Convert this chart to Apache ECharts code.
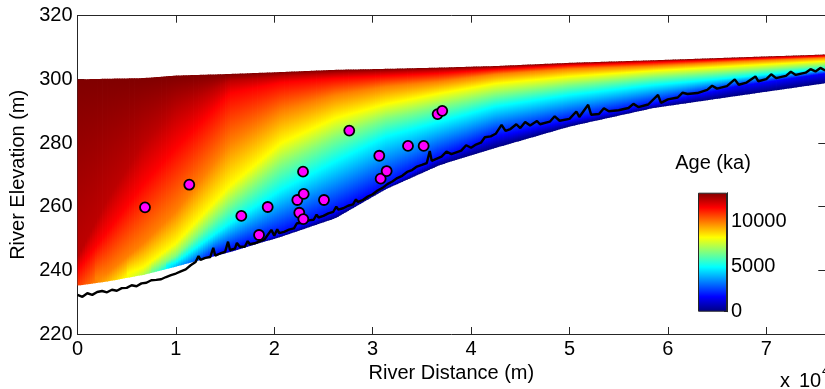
<!DOCTYPE html>
<html>
<head>
<meta charset="utf-8">
<script src="https://cdn.jsdelivr.net/npm/echarts/dist/echarts.min.js"></script>
<style>
html,body{margin:0;padding:0;background:#fff;}
#chart{width:825px;height:389px;}
</style>
</head>
<body>
<div id="chart"></div>
<script>
// ---------- DATA ----------
// sample distances (m) for the age field
const fieldDist   = [0, 3000, 6700, 10000, 15500, 20700, 26200, 31300, 36800, 42500, 50000, 58500, 67000, 76000];
const fieldTop    = [300.0, 300.2, 300.4, 301.2, 301.7, 302.3, 303.0, 303.3, 303.7, 304.2, 305.2, 306.0, 306.9, 307.8];
const fieldBottom = [235.2, 236.5, 238.6, 241.2, 245.8, 250.6, 256.4, 265.5, 273.1, 278.5, 285.2, 291.0, 294.8, 298.8];
const bottomAge   = [10800, 9300, 7300, 4000, 500, 0, 0, 0, 0, 0, 0, 0, 0, 0];
// isochrone elevations (null = isochrone lies at / below the field bottom)
const ageLevels = [1650, 4950, 6600, 8250, 9900, 11550, 12400];
const iso1650  = [null, null, null, null, 246.3, 251.5, 258.3, 266.3, 275.2, 282.0, 287.0, 292.2, 297.8, 301.8];
const iso4950  = [null, null, null, 242.5, 254.8, 265.3, 274.2, 282.0, 286.7, 291.5, 295.1, 298.2, 300.6, 303.3];
const iso6600  = [null, null, null, 244.5, 260.5, 273.0, 281.5, 287.5, 291.4, 295.1, 298.2, 300.6, 302.4, 304.4];
const iso8250  = [null, null, 241.0, 248.5, 266.5, 280.0, 287.8, 292.2, 295.6, 298.7, 300.9, 302.7, 304.2, 305.7];
const iso9900  = [null, 239.0, 248.5, 258.5, 280.0, 290.0, 295.1, 297.7, 299.3, 301.6, 303.3, 304.2, 305.6, 306.8];
const iso11550 = [240.0, 252.0, 267.0, 278.5, 295.6, 299.0, 300.3, 301.1, 301.9, 303.1, 304.4, 305.3, 306.3, 307.3];
const iso12400 = [244.0, 262.0, 280.0, 290.5, 299.5, 301.0, 301.8, 302.3, 302.9, 303.7, 304.8, 305.7, 306.6, 307.6];
const ageMax = 13200;

// river profile (black line)
const riverDist = [
  0,500,1000,1500,2000,2500,3000,3500,4000,4500,
  5000,5500,6000,6500,7000,7500,8000,8500,9000,9500,
  10000,10500,11000,11500,12000,12300,12500,13000,13500,13800,
  14000,14500,15000,15300,15500,16000,16200,16500,17000,17300,
  17500,18000,18500,19000,19700,20000,20300,20500,21000,21500,
  22000,22300,22500,23000,23500,24000,24300,24500,25000,25500,
  26000,26300,26500,27000,27500,28000,28300,28500,29000,29500,
  30000,30500,31000,31500,32000,32500,33000,33500,34000,34500,
  35000,35500,35800,36000,37000,37500,38000,39000,39500,40000,
  40500,41000,41400,42000,42500,43100,43500,44000,44600,45000,
  45500,46000,46700,47000,48000,48500,49000,50000,50700,51000,
  51900,52200,53000,53500,54000,55000,56000,56500,57000,58000,
  59000,59300,60000,61000,61500,62000,63000,64000,64500,65000,
  66000,66800,67200,68000,68900,69200,70000,70500,71000,72000,
  72500,73000,74000,74500,75000,75500,76000];
const riverElev = [
  232.3,231.7,232.8,232.3,233.2,233.5,233.1,233.9,233.6,234.4,
  234.5,235.3,235.0,235.9,236.1,236.9,237.0,237.2,237.9,238.5,
  239.0,239.7,240.3,241.6,242.6,244.5,243.3,243.9,244.2,247.1,
  244.6,245.3,245.8,249.0,246.4,246.8,248.6,247.4,247.4,249.2,
  248.2,248.5,249.1,249.7,252.7,250.9,252.9,251.7,252.1,252.8,
  253.2,254.8,254.3,254.9,255.7,255.9,257.5,256.6,257.1,257.9,
  258.4,260.0,259.1,259.5,260.3,260.7,262.3,261.5,262.1,263.2,
  263.9,265.1,265.9,267.1,267.9,269.0,269.7,270.9,271.5,272.6,
  273.1,273.7,277.5,274.4,275.7,277.3,276.5,277.6,279.3,278.5,
  279.5,280.1,281.8,282.1,282.9,285.7,283.8,284.4,285.9,284.7,
  286.6,285.5,286.9,285.9,286.7,288.4,287.0,287.6,289.9,288.2,
  292.0,288.9,289.1,290.9,290.0,290.3,291.0,292.3,291.3,292.1,
  295.1,292.6,293.7,294.3,295.8,295.4,295.7,296.7,298.0,297.1,
  297.9,300.0,298.3,299.0,300.9,299.4,300.1,301.6,300.4,301.1,
  302.4,301.4,302.1,303.2,302.5,303.6,302.8];

// dated samples (magenta circles)
const sampleDist = [6860, 11360, 16650, 18450, 19330, 22340, 22540, 22950, 22920, 22990, 25050, 27620, 30670, 30810, 31420, 33590, 35180, 36600, 37070];
const sampleElev = [259.8, 266.9, 257.1, 251.1, 259.9, 262.1, 258.1, 256.1, 271.0, 264.0, 262.1, 283.9, 276.0, 268.8, 271.2, 279.1, 279.1, 289.1, 290.1];

const xTicks = [0, 10000, 20000, 30000, 40000, 50000, 60000, 70000];
const colorbarTicks = [0, 5000, 10000];

// ---------- HELPERS ----------
const FONT = "'Liberation Sans', Arial, Helvetica, sans-serif";
const isoArrays = [iso1650, iso4950, iso6600, iso8250, iso9900, iso11550, iso12400];
const isoEff = isoArrays.map(a => a.map((v, i) => v == null ? fieldBottom[i] : v));
function lerp(arr, x) {
  const xs = fieldDist;
  if (x <= xs[0]) return arr[0];
  for (let i = 0; i < xs.length - 1; i++) {
    if (x <= xs[i + 1]) {
      const t = (x - xs[i]) / (xs[i + 1] - xs[i]);
      return arr[i] + t * (arr[i + 1] - arr[i]);
    }
  }
  return arr[arr.length - 1];
}
function clamp01(v) { return Math.max(0, Math.min(1, v)); }
function jet(t) {
  const r = clamp01(1.5 - Math.abs(4 * t - 3));
  const g = clamp01(1.5 - Math.abs(4 * t - 2));
  const b = clamp01(1.5 - Math.abs(4 * t - 1));
  return 'rgb(' + Math.round(r * 255) + ',' + Math.round(g * 255) + ',' + Math.round(b * 255) + ')';
}
const jetStops = [0, 0.125, 0.375, 0.625, 0.875, 1].map(t => ({ offset: t, color: jet(t) }));

// columns of the age field (render subdivision along distance)
const colStep = 250;
const columns = [];
for (let x = 0; x < 76000; x += colStep) columns.push([x, Math.min(x + colStep, 76000)]);

function renderField(params, api) {
  const xa = api.value(0), xb = api.value(1), xm = (xa + xb) / 2;
  const p1 = api.coord([xa, lerp(fieldBottom, xa)]);
  const p2 = api.coord([xb, lerp(fieldBottom, xb)]);
  const p3 = api.coord([xb, lerp(fieldTop, xb)]);
  const p4 = api.coord([xa, lerp(fieldTop, xa)]);
  p2[0] += 0.8; p3[0] += 0.8;
  const bm = lerp(fieldBottom, xm), tm = lerp(fieldTop, xm), ab = lerp(bottomAge, xm);
  const pc = api.coord([xm, bm]);
  const yb = pc[1], yt = api.coord([xm, tm])[1];
  const stops = [{ offset: 0, color: jet(ab / ageMax) }];
  let last = 0;
  ageLevels.forEach((age, k) => {
    if (age <= ab) return;
    const y = api.coord([xm, lerp(isoEff[k], xm)])[1];
    const off = (yb - y) / (yb - yt);
    if (off <= last || off >= 1) return;
    stops.push({ offset: off, color: jet(age / ageMax) });
    last = off;
  });
  stops.push({ offset: 1, color: jet(1) });
  return {
    type: 'polygon',
    shape: { points: [p1, p2, p3, p4] },
    style: { fill: new echarts.graphic.LinearGradient(pc[0], yb, pc[0], yt, stops, true), stroke: null }
  };
}

// ---------- CHART ----------
const chart = echarts.init(document.getElementById('chart'), null, { renderer: 'canvas' });
const axisColor = '#262626';
const option = {
  animation: false,
  backgroundColor: '#ffffff',
  textStyle: { fontFamily: FONT },
  grid: [
    { left: 77.5, right: -0.3, top: 15.7, bottom: 55, containLabel: false, outerBoundsMode: 'none' },
    { left: 698, width: 29, top: 192.7, height: 119, containLabel: false, outerBoundsMode: 'none' }
  ],
  xAxis: [
    {
      type: 'value', gridIndex: 0, position: 'bottom', min: 0, max: 76000, interval: 10000,
      axisLine: { show: true, onZero: false, lineStyle: { color: axisColor, width: 1 } },
      axisTick: { show: true, inside: true, length: 7, lineStyle: { color: axisColor } },
      axisLabel: {
        show: true, margin: 5, fontSize: 20, color: '#000', fontFamily: FONT, showMaxLabel: false,
        formatter: v => (xTicks.indexOf(v) >= 0 ? String(v / 10000) : '')
      },
      splitLine: { show: false },
      name: 'River Distance (m)', nameLocation: 'middle', nameGap: 26,
      nameTextStyle: { fontSize: 20, color: '#000', fontFamily: FONT }
    },
    {
      type: 'value', gridIndex: 0, position: 'top', min: 0, max: 76000, interval: 10000,
      axisLine: { show: true, onZero: false, lineStyle: { color: axisColor, width: 1 } },
      axisTick: { show: true, inside: true, length: 7, lineStyle: { color: axisColor } },
      axisLabel: { show: false }, splitLine: { show: false }
    },
    { type: 'category', gridIndex: 1, data: ['age'], show: false, boundaryGap: true }
  ],
  yAxis: [
    {
      type: 'value', gridIndex: 0, position: 'left', min: 220, max: 320, interval: 20,
      axisLine: { show: true, onZero: false, lineStyle: { color: axisColor, width: 1 } },
      axisTick: { show: true, inside: true, length: 7, lineStyle: { color: axisColor } },
      axisLabel: { show: true, margin: 5, fontSize: 20, color: '#000', fontFamily: FONT },
      splitLine: { show: false },
      name: 'River Elevation (m)', nameLocation: 'middle', nameGap: 39, nameRotate: 90,
      nameTextStyle: { fontSize: 20, color: '#000', fontFamily: FONT }
    },
    {
      type: 'value', gridIndex: 0, position: 'right', min: 220, max: 320, interval: 20,
      axisLine: { show: true, onZero: false, lineStyle: { color: axisColor, width: 1 } },
      axisTick: { show: true, inside: true, length: 7, lineStyle: { color: axisColor } },
      axisLabel: { show: false }, splitLine: { show: false }
    },
    {
      type: 'value', gridIndex: 1, position: 'right', min: 0, max: ageMax, interval: 5000,
      axisLine: { show: true, onZero: false, lineStyle: { color: axisColor, width: 1 } },
      axisTick: { show: true, inside: true, length: 3, lineStyle: { color: axisColor } },
      axisLabel: {
        show: true, margin: 4, fontSize: 20, color: '#000', fontFamily: FONT, showMaxLabel: false,
        formatter: v => (colorbarTicks.indexOf(v) >= 0 ? String(v) : '')
      },
      splitLine: { show: false }
    }
  ],
  series: [
    {
      type: 'custom', name: 'age field', xAxisIndex: 0, yAxisIndex: 0,
      renderItem: renderField, data: columns, clip: true, silent: true,
      encode: { x: [0, 1] }, z: 1
    },
    {
      type: 'line', name: 'river', xAxisIndex: 0, yAxisIndex: 0,
      data: riverDist.map((d, i) => [d, riverElev[i]]),
      showSymbol: false, symbol: 'none', clip: true,
      lineStyle: { color: '#000', width: 2.4 }, z: 3
    },
    {
      type: 'scatter', name: 'samples', xAxisIndex: 0, yAxisIndex: 0,
      data: sampleDist.map((d, i) => [d, sampleElev[i]]),
      symbol: 'circle', symbolSize: 10,
      itemStyle: { color: '#ff00ff', borderColor: '#000', borderWidth: 1.8, opacity: 1 }, z: 4
    },
    {
      type: 'bar', name: 'colorbar', xAxisIndex: 2, yAxisIndex: 2,
      data: [ageMax], barWidth: '100%', silent: true,
      itemStyle: {
        color: new echarts.graphic.LinearGradient(0, 1, 0, 0, jetStops),
        borderColor: axisColor, borderWidth: 1
      }, z: 3
    }
  ],
  graphic: [
    { type: 'text', x: 713, y: 163, style: { text: 'Age (ka)', font: '20px ' + FONT, fill: '#000', align: 'center', verticalAlign: 'middle' } },
    { type: 'text', x: 780, y: 381, style: { text: 'x', font: '20px ' + FONT, fill: '#000', align: 'left', verticalAlign: 'middle' } },
    { type: 'text', x: 799, y: 381, style: { text: '10', font: '20px ' + FONT, fill: '#000', align: 'left', verticalAlign: 'middle' } },
    { type: 'text', x: 822, y: 371, style: { text: '4', font: '13px ' + FONT, fill: '#000', align: 'left', verticalAlign: 'middle' } }
  ]
};
chart.setOption(option);
</script>
</body>
</html>
